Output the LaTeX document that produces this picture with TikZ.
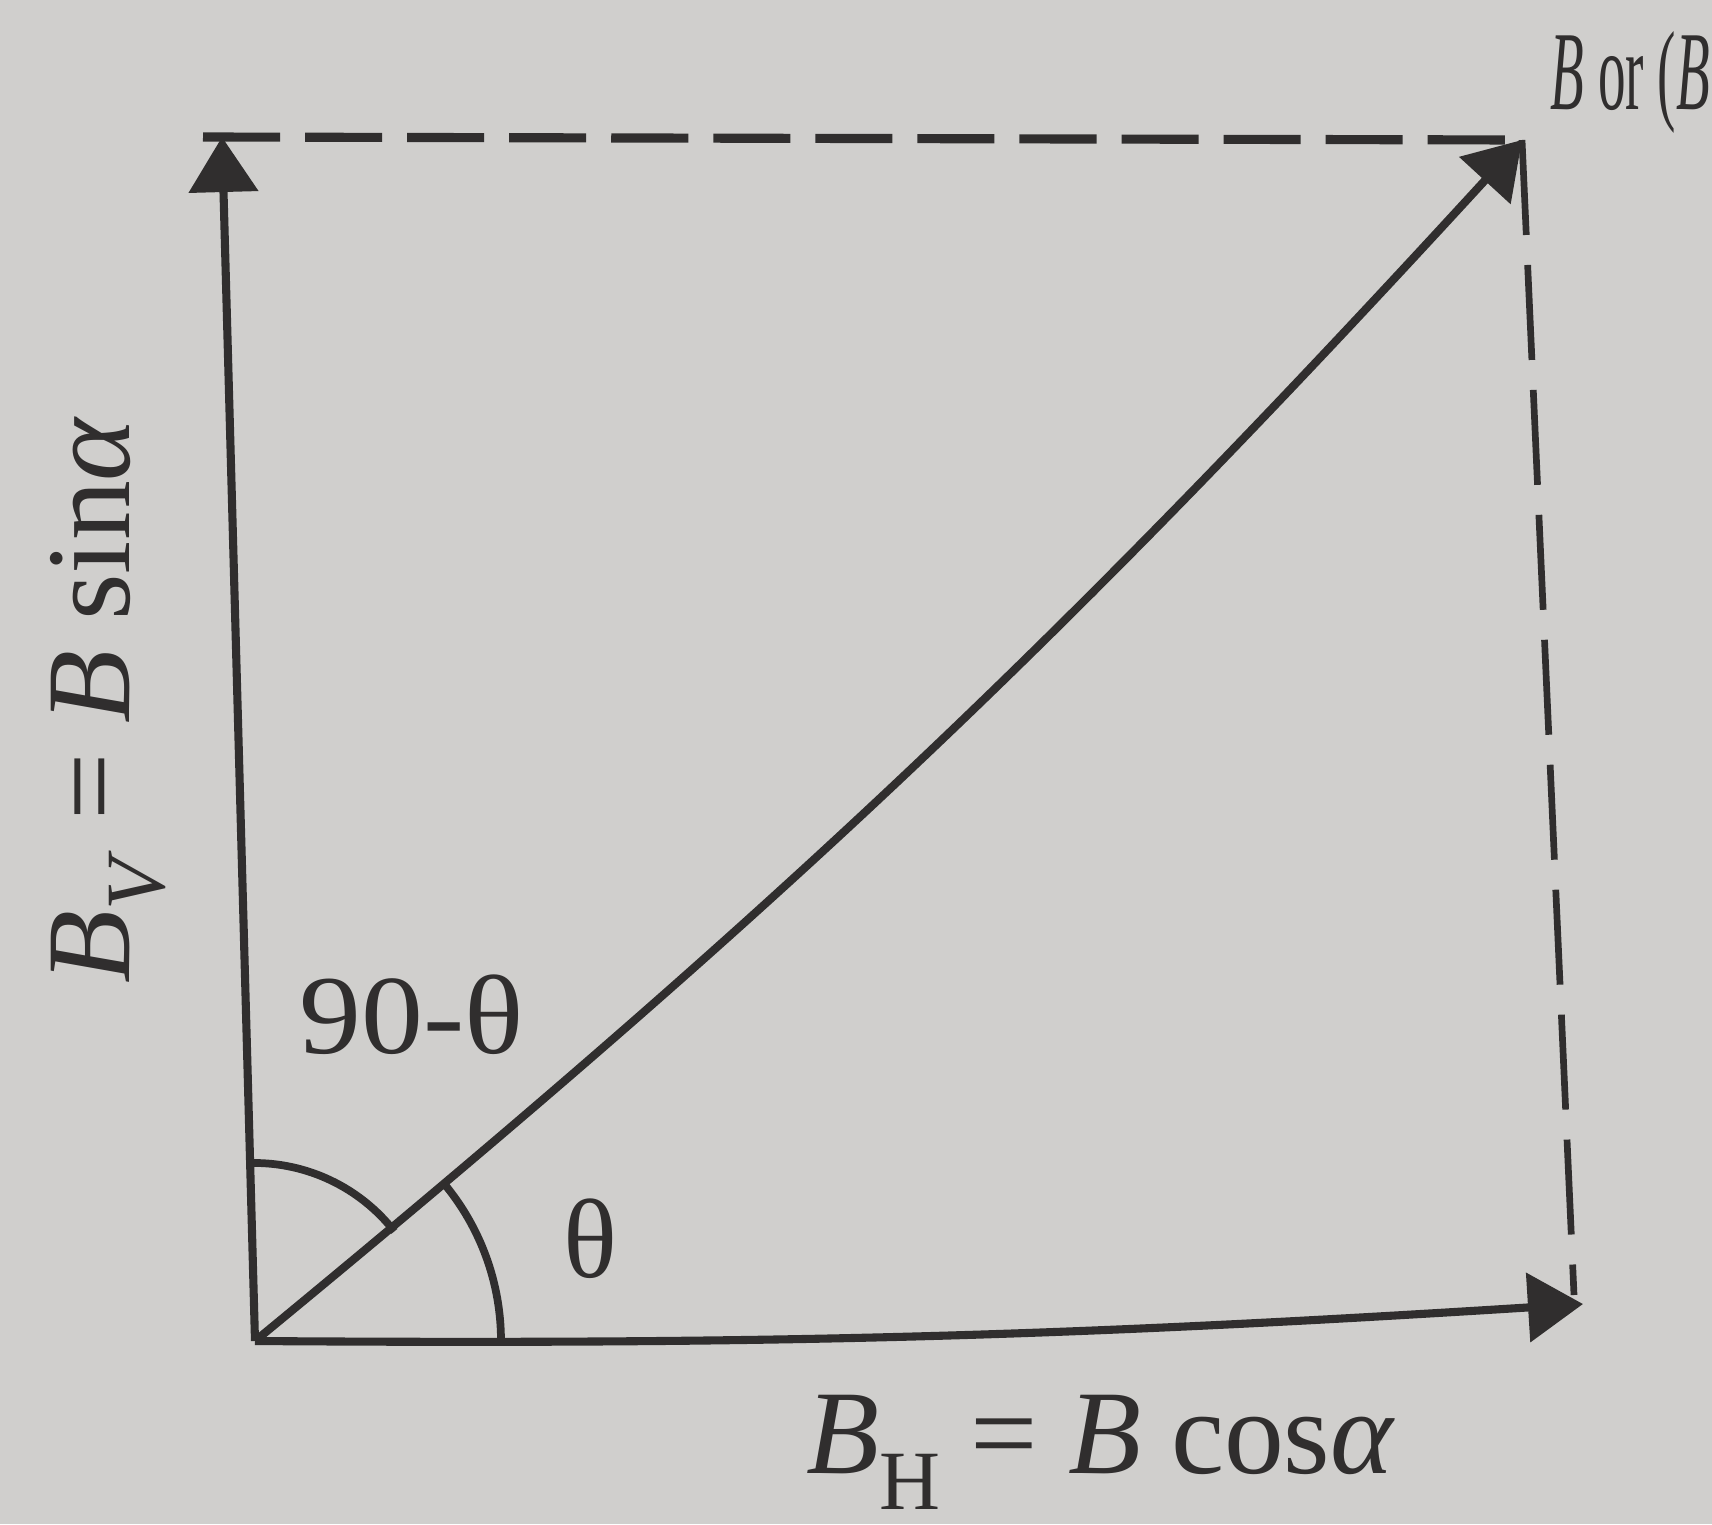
\documentclass[tikz,border=0pt]{standalone}
\usepackage{fontspec}
\usepackage{graphicx}
\setmainfont{Liberation Serif}
\usetikzlibrary{arrows.meta}
\definecolor{paper}{RGB}{208,207,205}
\definecolor{ink}{RGB}{48,46,46}
\begin{document}
\begin{tikzpicture}[x=0.01cm,y=0.01cm,
  vec/.style={draw=ink,line width=2.3pt,-{Triangle[length=0.55cm,width=0.68cm]}},
  topdash/.style={draw=ink,line width=2.6pt,dash pattern=on 0.77cm off 0.25cm},
  sidedash/.style={draw=ink,line width=1.9pt,dash pattern=on 0.95cm off 0.3cm},
  anglearc/.style={draw=ink,line width=2.2pt},
  lbl/.style={text=ink,font=\fontsize{34}{40}\selectfont,inner sep=0pt},
  small/.style={text=ink,font=\fontsize{32}{36}\selectfont,inner sep=0pt}]
\fill[paper] (0,0) rectangle (1712,-1524);
\useasboundingbox (0,0) rectangle (1712,-1524);
% points
\coordinate (O) at (255,-1341);
\coordinate (V) at (222,-137);
\coordinate (TL) at (203,-137);
\coordinate (P) at (1522,-140);
\coordinate (RB) at (1574,-1295);
\coordinate (H) at (1583,-1304);
% dashed box sides
\draw[topdash] (TL) -- (P);
\draw[sidedash] (P) -- (RB);
% vectors
\draw[vec] (O) -- (V);
\draw[vec] (O) to[bend right=4] (P);
\draw[vec] (O) to[bend right=2] (H);
% angle arcs
\draw[anglearc] (O) ++(246,0) arc[start angle=0,end angle=40,radius=246];
\draw[anglearc] (O) ++(-4,178) arc[start angle=91,end angle=38,radius=178];
% labels
\node[small] (a90) at (412,-1015) {\scalebox{1.1}[1]{90-θ}};
\node[small] (ath) at (590,-1239) {θ};
\node[lbl,rotate=90] (bv) at (108,-700) {\textit{B}\raisebox{-0.3em}{\fontsize{24}{24}\selectfont\textit{V}} = \textit{B} sin\textit{α}};
\node[lbl] (bh) at (1101,-1452) {\textit{B}\raisebox{-0.3em}{\fontsize{24}{24}\selectfont H} = \textit{B} cos\textit{α}};
\node[small,anchor=west] (bor) at (1550,-82) {\scalebox{0.49}[1]{\textit{B} or (\textit{B}}};
\end{tikzpicture}
\end{document}
